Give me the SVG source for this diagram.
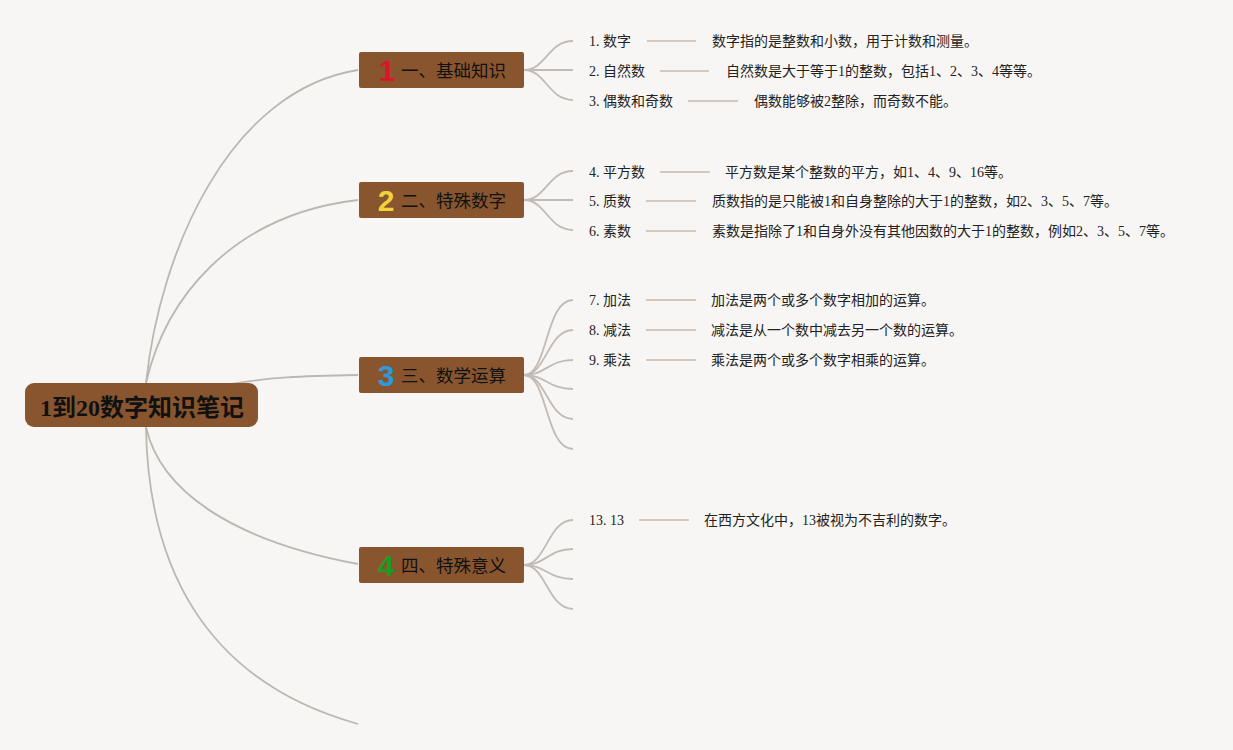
<svg xmlns="http://www.w3.org/2000/svg" width="1233" height="750" viewBox="0 0 1233 750">
<style>
.bg{fill:#f8f6f4}
.main{fill:none;stroke:#bdb7b2;stroke-width:1.8}
.fan{fill:none;stroke:#c2bbb5;stroke-width:1.8}
.dash{stroke:#c8b9ae;stroke-width:1.6}
.box{fill:#88552f}
.num{font-family:"Liberation Sans","Noto Sans CJK SC",sans-serif;font-weight:bold;font-size:30px;text-anchor:middle}
.title{font-family:"Noto Sans CJK SC",sans-serif;font-size:17.5px;fill:#111}
.root{font-family:"Liberation Serif","Noto Sans CJK SC",serif;font-weight:bold;font-size:24px;fill:#111;text-anchor:middle}
.t{font-family:"Liberation Serif","Noto Sans CJK SC",serif;font-size:14px;fill:#222}
</style>
<rect class="bg" x="0" y="0" width="1233" height="750"/>
<g id="connectors">
<path class="main" d="M146 383 C160 250 230 90 358 70"/>
<path class="main" d="M146 383 C165 300 230 215 358 200"/>
<path class="main" d="M225 385 C270 377 300 376 358 375"/>
<path class="main" d="M146 427 C160 490 230 540 358 564"/>
<path class="main" d="M146 427 C148 560 200 680 358 724"/>
<path class="fan" d="M524 70 C546 70 548 41 573 41"/>
<path class="fan" d="M524 70 L573 70"/>
<path class="fan" d="M524 70 C546 70 548 100 573 100"/>
<path class="fan" d="M524 200 C546 200 548 171 573 171"/>
<path class="fan" d="M524 200 L573 200"/>
<path class="fan" d="M524 200 C546 200 548 230 573 230"/>
<path class="fan" d="M524 375 C548 375 545 300 573 300"/>
<path class="fan" d="M524 375 C546 375 548 330 573 330"/>
<path class="fan" d="M524 375 C546 375 548 360 573 360"/>
<path class="fan" d="M524 375 C546 375 548 389 573 389"/>
<path class="fan" d="M524 375 C546 375 548 419 573 419"/>
<path class="fan" d="M524 375 C548 375 545 449 573 449"/>
<path class="fan" d="M524 565 C546 565 548 520 573 520"/>
<path class="fan" d="M524 565 C546 565 548 549 573 549"/>
<path class="fan" d="M524 565 C546 565 548 579 573 579"/>
<path class="fan" d="M524 565 C546 565 548 609 573 609"/>
<line class="dash" x1="647" y1="41" x2="696" y2="41"/>
<line class="dash" x1="660" y1="71" x2="709" y2="71"/>
<line class="dash" x1="688" y1="101" x2="738" y2="101"/>
<line class="dash" x1="660" y1="172" x2="710" y2="172"/>
<line class="dash" x1="646" y1="201" x2="696" y2="201"/>
<line class="dash" x1="646" y1="231" x2="696" y2="231"/>
<line class="dash" x1="646" y1="300" x2="696" y2="300"/>
<line class="dash" x1="646" y1="330" x2="696" y2="330"/>
<line class="dash" x1="646" y1="360" x2="696" y2="360"/>
<line class="dash" x1="639" y1="520" x2="689" y2="520"/>
</g>
<g id="root">
<rect class="box" x="25" y="383" width="233" height="44" rx="9"/>
<text class="root" x="142" y="416">1到20数字知识笔记</text>
</g>
<g id="branch1">
<rect class="box" x="359" y="52" width="165" height="36" rx="2"/>
<text class="num" x="387" y="81" fill="#d9172b">1</text>
<text class="title" x="401" y="77">一、基础知识</text>
</g>
<g id="branch2">
<rect class="box" x="359" y="182" width="165" height="36" rx="2"/>
<text class="num" x="386" y="211" fill="#f2d23c">2</text>
<text class="title" x="401" y="207">二、特殊数字</text>
</g>
<g id="branch3">
<rect class="box" x="359" y="357" width="165" height="36" rx="2"/>
<text class="num" x="386" y="386" fill="#2a9bdb">3</text>
<text class="title" x="401" y="382">三、数学运算</text>
</g>
<g id="branch4">
<rect class="box" x="359" y="547" width="165" height="36" rx="2"/>
<text class="num" x="386" y="576" fill="#1f9a22">4</text>
<text class="title" x="401" y="572">四、特殊意义</text>
</g>
<g id="item1"><text class="t" x="589" y="46">1. 数字</text><text class="t" x="712" y="46">数字指的是整数和小数，用于计数和测量。</text></g>
<g id="item2"><text class="t" x="589" y="76">2. 自然数</text><text class="t" x="726" y="76">自然数是大于等于1的整数，包括1、2、3、4等等。</text></g>
<g id="item3"><text class="t" x="589" y="106">3. 偶数和奇数</text><text class="t" x="754" y="106">偶数能够被2整除，而奇数不能。</text></g>
<g id="item4"><text class="t" x="589" y="177">4. 平方数</text><text class="t" x="725" y="177">平方数是某个整数的平方，如1、4、9、16等。</text></g>
<g id="item5"><text class="t" x="589" y="206">5. 质数</text><text class="t" x="712" y="206">质数指的是只能被1和自身整除的大于1的整数，如2、3、5、7等。</text></g>
<g id="item6"><text class="t" x="589" y="236">6. 素数</text><text class="t" x="712" y="236">素数是指除了1和自身外没有其他因数的大于1的整数，例如2、3、5、7等。</text></g>
<g id="item7"><text class="t" x="589" y="305">7. 加法</text><text class="t" x="711" y="305">加法是两个或多个数字相加的运算。</text></g>
<g id="item8"><text class="t" x="589" y="335">8. 减法</text><text class="t" x="711" y="335">减法是从一个数中减去另一个数的运算。</text></g>
<g id="item9"><text class="t" x="589" y="365">9. 乘法</text><text class="t" x="711" y="365">乘法是两个或多个数字相乘的运算。</text></g>
<g id="item13"><text class="t" x="589" y="525">13. 13</text><text class="t" x="704" y="525">在西方文化中，13被视为不吉利的数字。</text></g>
</svg>
